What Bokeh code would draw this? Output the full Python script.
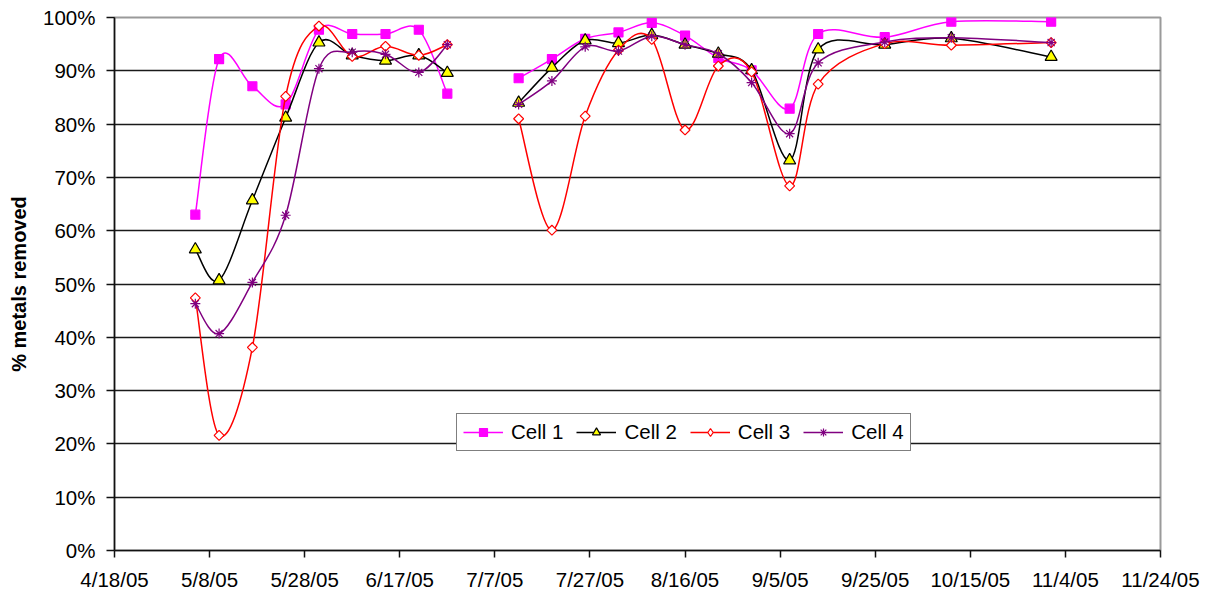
import numpy as np
import pandas as pd
from bokeh.plotting import figure
from bokeh.models import (ColumnDataSource, FixedTicker, CustomJSTickFormatter,
                          PrintfTickFormatter, Legend, LegendItem, Range1d)
from bokeh.embed import file_html
from bokeh.resources import INLINE

# ---------------- data ----------------
# None marks the break in sampling between the two periods
dates = ["2005-05-05", "2005-05-10", "2005-05-17", "2005-05-24", "2005-05-31",
         "2005-06-07", "2005-06-14", "2005-06-21", "2005-06-27", None,
         "2005-07-12", "2005-07-19", "2005-07-26", "2005-08-02", "2005-08-09",
         "2005-08-16", "2005-08-23", "2005-08-30", "2005-09-07", "2005-09-13",
         "2005-09-27", "2005-10-11", "2005-11-01"]

cell1 = [63.0, 92.2, 87.1, 83.7, 97.7, 96.9, 96.9, 97.7, 85.7, None,
         88.6, 92.2, 96.0, 97.2, 99.0, 96.6, 92.4, 90.1, 82.9, 96.9,
         96.3, 99.2, 99.2]
cell2 = [56.5, 50.7, 65.7, 81.2, 95.3, 92.9, 91.9, 92.9, 89.6, None,
         84.0, 90.6, 95.7, 95.2, 96.7, 94.9, 93.2, 90.1, 73.2, 94.0,
         94.9, 96.1, 92.6]
cell3 = [47.4, 21.6, 38.1, 85.2, 98.4, 92.7, 94.6, 92.9, 94.9, None,
         81.0, 60.1, 81.5, 93.9, 95.9, 78.9, 90.9, 89.8, 68.4, 87.5,
         95.1, 94.8, 95.3]
cell4 = [46.3, 40.7, 50.3, 62.9, 90.4, 93.5, 93.1, 89.7, 94.9, None,
         83.7, 88.1, 94.5, 93.7, 96.5, 94.9, 93.2, 87.8, 78.2, 91.5,
         95.4, 96.2, 95.3]

series_names = ["Cell 1", "Cell 2", "Cell 3", "Cell 4"]

xtick_dates = ["2005-04-18", "2005-05-08", "2005-05-28", "2005-06-17",
               "2005-07-07", "2005-07-27", "2005-08-16", "2005-09-05",
               "2005-09-25", "2005-10-15", "2005-11-04", "2005-11-24"]
xtick_labels = ["4/18/05", "5/8/05", "5/28/05", "6/17/05", "7/7/05", "7/27/05",
                "8/16/05", "9/5/05", "9/25/05", "10/15/05", "11/4/05", "11/24/05"]
ytick_values = [0, 10, 20, 30, 40, 50, 60, 70, 80, 90, 100]
y_label = "% metals removed"

# ---------------- helpers ----------------
def to_ms(d):
    return pd.Timestamp(d).value / 1e6

def runs(xs, ys):
    """split into contiguous runs separated by None"""
    out, cx, cy = [], [], []
    for x, y in zip(xs, ys):
        if x is None or y is None:
            if cx:
                out.append((cx, cy))
            cx, cy = [], []
        else:
            cx.append(to_ms(x)); cy.append(y)
    if cx:
        out.append((cx, cy))
    return out

def smooth_segments(xs, ys):
    """cubic Bezier control points (Catmull-Rom style, like Excel smoothing)"""
    d = dict(x0=[], y0=[], x1=[], y1=[], cx0=[], cy0=[], cx1=[], cy1=[])
    for xr, yr in runs(xs, ys):
        n = len(xr)
        for i in range(n - 1):
            a = i - 1 if i > 0 else i
            b = i + 2 if i + 2 < n else i + 1
            d["x0"].append(xr[i]); d["y0"].append(yr[i])
            d["x1"].append(xr[i + 1]); d["y1"].append(yr[i + 1])
            d["cx0"].append(xr[i] + (xr[i + 1] - xr[a]) / 6.0)
            d["cy0"].append(yr[i] + (yr[i + 1] - yr[a]) / 6.0)
            d["cx1"].append(xr[i + 1] - (xr[b] - xr[i]) / 6.0)
            d["cy1"].append(yr[i + 1] - (yr[b] - yr[i]) / 6.0)
    return d

def points(xs, ys):
    px, py = [], []
    for x, y in zip(xs, ys):
        if x is not None and y is not None:
            px.append(to_ms(x)); py.append(y)
    return dict(x=px, y=py)

# ---------------- figure ----------------
FONT = "Liberation Sans"
p = figure(width=1207, height=594, x_axis_type="datetime",
           output_backend="svg", toolbar_location=None,
           x_range=Range1d(to_ms(xtick_dates[0]), to_ms(xtick_dates[-1])),
           y_range=Range1d(0, 100),
           min_border_left=114, min_border_right=47,
           min_border_top=17, min_border_bottom=44)
p.background_fill_color = "white"
p.border_fill_color = "white"
p.outline_line_color = "#9a9a9a"
p.outline_line_width = 2

p.xgrid.visible = False
p.ygrid.grid_line_color = "#1a1a1a"
p.ygrid.grid_line_width = 1.5
p.ygrid.ticker = FixedTicker(ticks=ytick_values)

xt = [to_ms(d) for d in xtick_dates]
p.xaxis.ticker = FixedTicker(ticks=xt)
p.xaxis.formatter = CustomJSTickFormatter(args=dict(tvals=xt, tlabels=xtick_labels), code="""
let best = 0;
for (let k = 0; k < tvals.length; k++) {
  if (Math.abs(tvals[k] - tick) < Math.abs(tvals[best] - tick)) best = k;
}
return tlabels[best];
""")
p.yaxis.ticker = FixedTicker(ticks=ytick_values)
p.yaxis.formatter = PrintfTickFormatter(format="%d%%")

for ax in (p.xaxis[0], p.yaxis[0]):
    ax.axis_line_color = "#111111"
    ax.axis_line_width = 1.5
    ax.major_tick_line_color = "#111111"
    ax.major_tick_line_width = 1.5
    ax.major_tick_in = 0
    ax.minor_tick_line_color = None
    ax.major_label_text_font = FONT
    ax.major_label_text_font_size = "20.5px"
    ax.major_label_text_color = "black"

p.xaxis.major_tick_out = 7
p.xaxis.major_label_standoff = 10
p.yaxis.major_tick_out = 8
p.yaxis.major_label_standoff = 11

p.yaxis.axis_label = y_label
p.yaxis.axis_label_text_font = FONT
p.yaxis.axis_label_text_font_size = "20px"
p.yaxis.axis_label_text_font_style = "bold"
p.yaxis.axis_label_text_color = "black"
p.yaxis.axis_label_standoff = 10

styles = [
    dict(line="#ff00ff", marker="square", size=9, fill="#ff00ff", mline="#ff00ff", angle=0.0, lmarker="square"),
    dict(line="#000000", marker="triangle", size=12, fill="#ffff00", mline="#000000", angle=0.0, lmarker="triangle"),
    dict(line="#ff0000", marker="square", size=7, fill="white", mline="#ff0000", angle=np.pi / 4, lmarker="diamond"),
    dict(line="#800080", marker="asterisk", size=10, fill=None, mline="#800080", angle=0.0, lmarker="asterisk"),
]

items = []
for name, vals, st in zip(series_names, [cell1, cell2, cell3, cell4], styles):
    seg = ColumnDataSource(smooth_segments(dates, vals))
    r_line = p.bezier(x0="x0", y0="y0", x1="x1", y1="y1", cx0="cx0", cy0="cy0",
                      cx1="cx1", cy1="cy1", source=seg,
                      line_color=st["line"], line_width=1.5)
    pts = ColumnDataSource(points(dates, vals))
    r_pts = p.scatter(x="x", y="y", source=pts, marker=st["marker"], size=st["size"],
                      fill_color=st["fill"], line_color=st["mline"], line_width=1.2,
                      angle=st["angle"])
    if st["lmarker"] != st["marker"]:
        # hidden twin renderer so the legend key shows an upright diamond
        r_key = p.scatter(x="x", y="y", source=pts, marker=st["lmarker"], size=st["size"] + 3,
                          fill_color=st["fill"], line_color=st["mline"], line_width=1.2,
                          visible=False)
        items.append(LegendItem(label=name, renderers=[r_line, r_key]))
    else:
        items.append(LegendItem(label=name, renderers=[r_line, r_pts]))

legend = Legend(items=items, orientation="horizontal", location=(342, 99))
legend.border_line_color = "black"
legend.border_line_width = 1.5
legend.background_fill_color = "white"
legend.background_fill_alpha = 1.0
legend.label_text_font = FONT
legend.label_text_font_size = "20.5px"
legend.label_text_color = "black"
legend.glyph_width = 40
legend.glyph_height = 20
legend.label_standoff = 8
legend.spacing = 13
legend.padding = 6
legend.margin = 0
legend.click_policy = "none"
p.add_layout(legend)

open("out.html", "w").write(file_html(p, INLINE))
